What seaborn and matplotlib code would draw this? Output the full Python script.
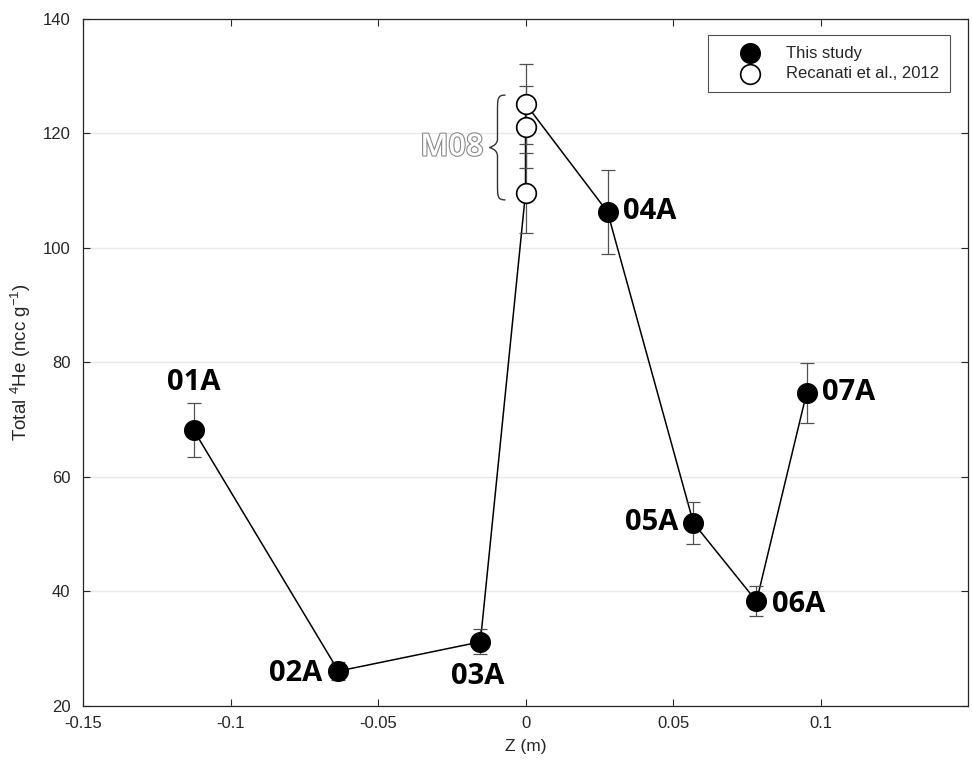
import numpy as np
import pandas as pd
import matplotlib
matplotlib.use("Agg")
import matplotlib.pyplot as plt
import seaborn as sns
from matplotlib.path import Path
from matplotlib.patches import PathPatch
import matplotlib.patheffects as pe

# ---- data ----
labels = ["01A", "02A", "03A", "04A", "05A", "06A", "07A"]
z_this = [-0.1125, -0.0634, -0.0153, 0.0278, 0.0569, 0.0783, 0.0953]
he_this = [68.2, 26.1, 31.2, 106.3, 52.0, 38.3, 74.7]
err_this = [4.7, 1.6, 2.2, 7.4, 3.7, 2.6, 5.2]

z_rec = [0.0, 0.0, 0.0]
he_rec = [109.6, 121.1, 125.2]
err_rec = [7.0, 7.2, 7.0]

sns.set_theme(style="white")
plt.rcParams["font.family"] = ["Liberation Sans", "DejaVu Sans"]
plt.rcParams["mathtext.fontset"] = "custom"
plt.rcParams["mathtext.rm"] = "Liberation Sans"
plt.rcParams["mathtext.it"] = "Liberation Sans"

df_this = pd.DataFrame({"z": z_this, "he": he_this, "src": "This study"})
df_rec = pd.DataFrame({"z": z_rec, "he": he_rec, "src": "Recanati et al., 2012"})
df_line = pd.concat([df_this.iloc[:3], df_rec, df_this.iloc[3:]], ignore_index=True)

fig = plt.figure(figsize=(9.72, 7.71), dpi=100)
ax = fig.add_axes([0.0854, 0.0843, 0.9105, 0.8911])

# grid
ax.set_axisbelow(True)
ax.yaxis.grid(True, color="#e8e8e8", linewidth=1)

# connecting line
sns.lineplot(data=df_line, x="z", y="he", sort=False, estimator=None,
             color="black", linewidth=1.1, ax=ax, legend=False, zorder=2)

# error bars
ax.errorbar(z_this, he_this, yerr=err_this, fmt="none", ecolor="#505050",
            elinewidth=0.9, capsize=5, capthick=0.9, zorder=3)
ax.errorbar(z_rec, he_rec, yerr=err_rec, fmt="none", ecolor="#505050",
            elinewidth=0.9, capsize=5, capthick=0.9, zorder=3)

# markers
sns.scatterplot(data=df_this, x="z", y="he", color="black", edgecolor="black",
                s=200, linewidth=1, ax=ax, zorder=4, label="This study")
sns.scatterplot(data=df_rec, x="z", y="he", color="white", edgecolor="black",
                s=200, linewidth=1.2, ax=ax, zorder=4, label="Recanati et al., 2012")

# labels
offsets = {
    "01A": (0, 34, "center", "center"),
    "02A": (-12, -2, "right", "center"),
    "03A": (-2, -25, "center", "center"),
    "04A": (11, 0, "left", "center"),
    "05A": (-11, 0, "right", "center"),
    "06A": (11, -2, "left", "center"),
    "07A": (11, 0, "left", "center"),
}
for lab, x, y in zip(labels, z_this, he_this):
    dx, dy, ha, va = offsets[lab]
    ax.annotate(lab, (x, y), xytext=(dx, dy), textcoords="offset points",
                ha=ha, va=va, fontsize=21, fontweight="bold",
                family=["Open Sans", "DejaVu Sans"], color="black", zorder=5)

# M08 brace and hollow label
xr = 0.0
top, bot = 126.7, 108.4
mid = (top + bot) / 2
xR, xL = xr - 0.0068, xr - 0.0122
xm = (xR + xL) / 2
verts = [
    (xR, top),
    (xm, top), (xm, top - 0.5), (xm, top - 3),
    (xm, mid + 1.5),
    (xm, mid + 0.3), (xL, mid), (xL, mid),
    (xL, mid), (xm, mid - 0.3), (xm, mid - 1.5),
    (xm, bot + 3),
    (xm, bot + 0.5), (xm, bot), (xR, bot),
]
codes = [Path.MOVETO,
         Path.CURVE4, Path.CURVE4, Path.CURVE4,
         Path.LINETO,
         Path.CURVE4, Path.CURVE4, Path.CURVE4,
         Path.CURVE4, Path.CURVE4, Path.CURVE4,
         Path.LINETO,
         Path.CURVE4, Path.CURVE4, Path.CURVE4]
ax.add_patch(PathPatch(Path(verts, codes), facecolor="none", edgecolor="#333333",
                       linewidth=1.0, zorder=5))
t = ax.text(xL - 0.0022, mid, "M08", ha="right", va="center", fontsize=22,
            fontweight="semibold", family=["Open Sans", "DejaVu Sans"], color="white", zorder=5)
t.set_path_effects([pe.Stroke(linewidth=1.6, foreground="#8a8a8a"), pe.Normal()])

# axes
ax.set_xlim(-0.15, 0.15)
ax.set_ylim(20, 140)
ax.set_xticks([-0.15, -0.1, -0.05, 0, 0.05, 0.1])
ax.set_xticklabels(["-0.15", "-0.1", "-0.05", "0", "0.05", "0.1"])
ax.set_yticks([20, 40, 60, 80, 100, 120, 140])
ax.tick_params(direction="in", length=5, width=0.8, colors="#262626",
               labelsize=12, top=True, right=True, bottom=True, left=True)
ax.tick_params(axis="x", pad=7)
ax.tick_params(axis="y", pad=9)
for s in ax.spines.values():
    s.set_color("#262626")
    s.set_linewidth(0.9)
ax.set_xlabel("Z (m)", fontsize=12.5, color="#262626", labelpad=6)
ax.set_ylabel(r"Total $\mathregular{^4}$He (ncc g$\mathregular{^{-1}}$)", fontsize=13.5,
              color="#262626", labelpad=7)

leg = ax.legend(loc="upper right", bbox_to_anchor=(0.9795, 0.977), frameon=True,
                fancybox=False, edgecolor="#262626", fontsize=12,
                borderpad=0.65, handlelength=3.8, handletextpad=0.25,
                labelspacing=0.35, markerscale=1.0, borderaxespad=0.0)
leg.get_frame().set_linewidth(0.8)

fig.savefig("out.png", dpi=100)
